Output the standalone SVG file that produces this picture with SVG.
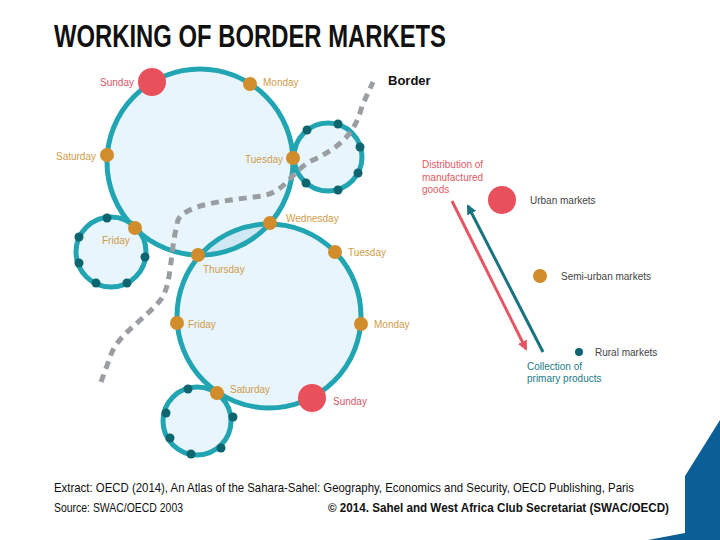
<svg xmlns="http://www.w3.org/2000/svg" width="720" height="540" viewBox="0 0 720 540">
<defs>
<style>
.fill{fill:#e9f5fc;stroke:none}
.ring{fill:none;stroke:#21a5b2;stroke-width:5}
.semi{fill:#d18c2b}
.urban{fill:#e8505b}
.rural{fill:#0d6570}
.day{font-family:"Liberation Sans",Arial,sans-serif;font-size:10px;fill:#cf9b4a}
.sun{font-family:"Liberation Sans",Arial,sans-serif;font-size:10px;fill:#d4566a}
.leg{font-family:"Liberation Sans",Arial,sans-serif;font-size:10px;fill:#444}
</style>
<clipPath id="clipA"><circle cx="200" cy="162" r="93"/></clipPath>
<marker id="ahRed" markerWidth="10" markerHeight="10" refX="8" refY="5" orient="auto" markerUnits="userSpaceOnUse"><path d="M0,0 L10,5 L0,10 Z" fill="#e35563"/></marker>
<marker id="ahTeal" markerWidth="10" markerHeight="10" refX="8" refY="5" orient="auto" markerUnits="userSpaceOnUse"><path d="M0,0 L10,5 L0,10 Z" fill="#1b7280"/></marker>
</defs>
<rect width="720" height="540" fill="#fff"/>
<text x="54" y="47" font-family="Liberation Sans,Arial,sans-serif" font-weight="bold" font-size="31" textLength="392" lengthAdjust="spacingAndGlyphs" fill="#111">WORKING OF BORDER MARKETS</text>

<g id="circleA"><circle class="fill" cx="200" cy="162" r="93"/></g>
<g id="circleB"><circle class="fill" cx="269" cy="316" r="92"/></g>
<g id="circleC"><circle class="fill" cx="328" cy="157" r="34"/></g>
<g id="circleD"><circle class="fill" cx="111" cy="252" r="35"/></g>
<g id="circleE"><circle class="fill" cx="197" cy="421" r="34"/></g>
<circle cx="269" cy="316" r="92" fill="#cfe8f3" clip-path="url(#clipA)"/>
<g id="rings">
<circle class="ring" cx="200" cy="162" r="93"/>
<circle class="ring" cx="269" cy="316" r="92"/>
<circle class="ring" cx="328" cy="157" r="34"/>
<circle class="ring" cx="111" cy="252" r="35"/>
<circle class="ring" cx="197" cy="421" r="34"/>
</g>

<g id="connectors">
<path id="border" d="M101,382 L112,352 C120,333 150,315 162,298 C172,282 170,250 178,220 C185,204 230,200 262,196 C286,192 292,170 313,160 C338,148 355,135 362,106 L373,82" fill="none" stroke="#9a9da2" stroke-width="5" stroke-dasharray="8 6"/>
<line x1="452" y1="201" x2="526" y2="349" stroke="#e35563" stroke-width="3" marker-end="url(#ahRed)"/>
<line x1="543" y1="352" x2="468" y2="206" stroke="#1b7280" stroke-width="3" marker-end="url(#ahTeal)"/>
</g>

<g id="ruralDots">
<circle class="rural" cx="338" cy="124" r="4.5"/>
<circle class="rural" cx="307" cy="130" r="4.5"/>
<circle class="rural" cx="360" cy="147" r="4.5"/>
<circle class="rural" cx="358" cy="173" r="4.5"/>
<circle class="rural" cx="338" cy="190" r="4.5"/>
<circle class="rural" cx="306" cy="183" r="4.5"/>
<circle class="rural" cx="107" cy="218" r="4.5"/>
<circle class="rural" cx="79" cy="237" r="4.5"/>
<circle class="rural" cx="79" cy="263" r="4.5"/>
<circle class="rural" cx="96" cy="283" r="4.5"/>
<circle class="rural" cx="127" cy="283" r="4.5"/>
<circle class="rural" cx="145" cy="257" r="4.5"/>
<circle class="rural" cx="188" cy="389" r="4.5"/>
<circle class="rural" cx="166" cy="413" r="4.5"/>
<circle class="rural" cx="170" cy="438" r="4.5"/>
<circle class="rural" cx="191" cy="454" r="4.5"/>
<circle class="rural" cx="221" cy="448" r="4.5"/>
<circle class="rural" cx="233" cy="417" r="4.5"/>
</g>

<g id="marketsA">
<circle class="urban" cx="152" cy="82" r="14"/>
<circle class="semi" cx="250" cy="84" r="7"/>
<circle class="semi" cx="107" cy="155" r="7"/>
<circle class="semi" cx="293" cy="158" r="7"/>
<circle class="semi" cx="135" cy="228" r="7"/>
<circle class="semi" cx="198" cy="255" r="7"/>
<circle class="semi" cx="270" cy="223" r="7"/>
<text class="sun" x="134" y="86" text-anchor="end">Sunday</text>
<text class="day" x="263" y="86">Monday</text>
<text class="day" x="96" y="160" text-anchor="end">Saturday</text>
<text class="day" x="283" y="163" text-anchor="end">Tuesday</text>
<text class="day" x="102" y="244">Friday</text>
</g>
<g id="marketsB">
<circle class="semi" cx="335" cy="252" r="7"/>
<circle class="semi" cx="177" cy="323" r="7"/>
<circle class="semi" cx="361" cy="324" r="7"/>
<circle class="semi" cx="217" cy="393" r="7"/>
<circle class="urban" cx="312" cy="398" r="14"/>
<text class="day" x="286" y="222">Wednesday</text>
<text class="day" x="348" y="256">Tuesday</text>
<text class="day" x="203" y="273">Thursday</text>
<text class="day" x="188" y="328">Friday</text>
<text class="day" x="374" y="328">Monday</text>
<text class="day" x="230" y="393">Saturday</text>
<text class="sun" x="333" y="405">Sunday</text>
</g>

<text x="388" y="85" font-family="Liberation Sans,Arial,sans-serif" font-weight="bold" font-size="13" fill="#111">Border</text>

<g id="labels">
<text font-family="Liberation Sans,Arial,sans-serif" font-size="10" fill="#e05a66"><tspan x="422" y="168">Distribution of</tspan><tspan x="422" y="181">manufactured</tspan><tspan x="422" y="193">goods</tspan></text>
<text font-family="Liberation Sans,Arial,sans-serif" font-size="10" fill="#1b7a88"><tspan x="527" y="370">Collection of</tspan><tspan x="527" y="382">primary products</tspan></text>
</g>

<g id="legend">
<circle class="urban" cx="502" cy="200" r="14"/>
<text class="leg" x="530" y="204">Urban markets</text>
<circle class="semi" cx="540" cy="276" r="7"/>
<text class="leg" x="561" y="280">Semi-urban markets</text>
<circle class="rural" cx="579" cy="352" r="4"/>
<text class="leg" x="595" y="356">Rural markets</text>
</g>

<g id="footer" font-family="Liberation Sans,Arial,sans-serif" fill="#111">
<text x="54" y="492" font-size="13" textLength="580" lengthAdjust="spacingAndGlyphs">Extract: OECD (2014), An Atlas of the Sahara-Sahel: Geography, Economics  and Security, OECD Publishing, Paris</text>
<text x="54" y="512" font-size="12" textLength="129" lengthAdjust="spacingAndGlyphs">Source: SWAC/OECD 2003</text>
<text x="328" y="512" font-size="13" font-weight="bold" textLength="341" lengthAdjust="spacingAndGlyphs">© 2014. Sahel and West Africa Club Secretariat (SWAC/OECD)</text>
</g>
<polygon points="720,420 685,476 685,533 648,540 720,540" fill="#0b5f96"/>
</svg>
